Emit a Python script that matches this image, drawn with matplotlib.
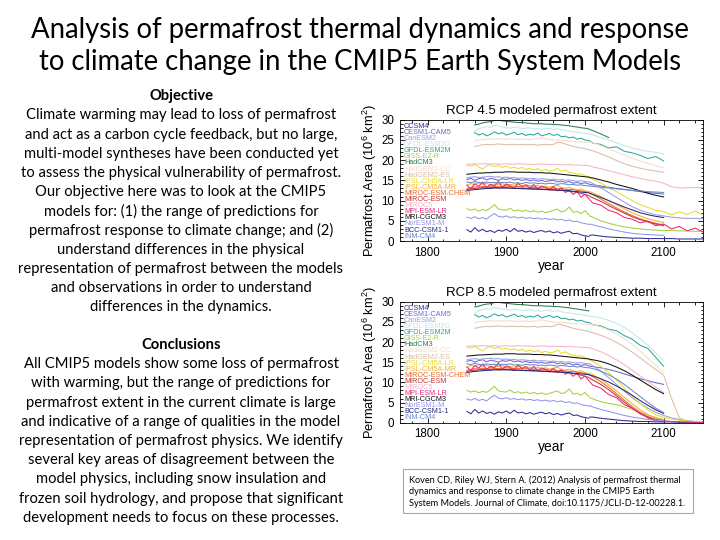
import numpy as np
import matplotlib
matplotlib.use('Agg')
import matplotlib.pyplot as plt
from matplotlib.patches import Rectangle
from matplotlib.ticker import MultipleLocator

nan = np.nan

# ---------- slide text ----------
TITLE = ['Analysis of permafrost thermal dynamics and response',
         'to climate change in the CMIP5 Earth System Models']
OBJECTIVE = ['Climate warming may lead to loss of permafrost',
             'and act as a carbon cycle feedback, but no large,',
             'multi-model syntheses have been conducted yet',
             'to assess the physical vulnerability of permafrost.',
             'Our objective here was to look at the CMIP5',
             'models for: (1) the range of predictions for',
             'permafrost response to climate change; and (2)',
             'understand differences in the physical',
             'representation of permafrost between the models',
             'and observations in order to understand',
             'differences in the dynamics.']
CONCLUSIONS = ['All CMIP5 models show some loss of permafrost',
               'with warming, but the range of predictions for',
               'permafrost extent in the current climate is large',
               'and indicative of a range of qualities in the model',
               'representation of permafrost physics. We identify',
               'several key areas of disagreement between the',
               'model physics, including snow insulation and',
               'frozen soil hydrology, and propose that significant',
               'development needs to focus on these processes.']
CITATION = ['Koven CD, Riley WJ, Stern A. (2012) Analysis of permafrost thermal',
            'dynamics and response to climate change in the CMIP5 Earth',
            'System Models. Journal of Climate, doi:10.1175/JCLI-D-12-00228.1.']

# ---------- permafrost area (10^6 km2) ----------
HIST_YEARS = list(range(1850, 2006, 5))
FUT_YEARS = [2006] + list(range(2010, 2151, 10))

hist_ccsm4 = [2.8, 2.2, 3.3, 2.4, 2.9, 2.3, 2.6, 2.1, 2.7, 2.4, 2.9, 2.3, 3.1, 2.4, 2.6, 2.2,
              2.5, 2.1, 2.4, 2.6, 2.2, 2.5, 2.0, 2.3, 1.9, 2.2, 2.4, 1.8, 1.9, 1.5, 1.3, 1.1]
rcp45_ccsm4 = [1.4, 1.5, 1.2, 1.0, 0.9, 0.8, 0.7, 0.7, 0.6, 0.6, 0.6, 0.6, 0.5, 0.5, 0.5, 0.5]
rcp85_ccsm4 = [1.4, 1.4, 1.1, 0.9, 0.7, 0.5, 0.4, 0.3, 0.3, 0.2, 0.2, 0.2, 0.1, 0.1, 0.1, 0.1]

hist_cesm = [15.2, 15.5, 15.0, 15.4, 15.6, 15.1, 15.5, 15.3, 15.0, 15.4, 15.2, 15.5, 15.1, 15.3, 15.0, 15.2,
             14.9, 15.1, 14.8, 15.0, 14.7, 14.9, 15.0, 14.6, 14.8, 14.5, 14.7, 14.3, 14.5, 14.2, 14.4, 14.1]
rcp45_cesm = [14.0, 13.9, 13.6, 13.3, 13.0, 12.8, 12.5, 12.2, 12.0, 11.8, 11.6]
rcp85_cesm = [14.0, 13.9, 13.6, 13.2, 12.7, 12.1, 11.5, 10.9, 10.4, 9.9, 9.5]

hist_canesm = [15.6, 15.8, 15.9, 15.7, 15.8, 15.9, 16.0, 15.8, 15.9, 15.7, 15.8, 15.6, 15.7, 15.5, 15.6, 15.5,
               15.4, 15.5, 15.3, 15.4, 15.3, 15.2, 15.3, 15.1, 15.2, 15.0, 15.1, 14.9, 14.8, 14.9, 14.7, 14.6]
rcp45_canesm = [14.6, 14.2, 13.2, 12.0, 10.8, 9.6, 8.5, 7.6, 7.0, 6.5, 6.2, 5.9, 5.7, 5.6, 5.6, 5.5]
rcp85_canesm = [14.6, 14.1, 12.8, 11.2, 9.5, 7.8, 6.2, 4.8, 3.6, 2.6, 1.8, 1.2, 0.8, 0.5, 0.3, 0.2]

hist_gfdl2g = [nan, nan, 27.2, 27.8, 28.0, 28.3, 28.1, 28.6, 28.4, 28.2, 28.0, 27.9, 28.2, 28.0, 27.8, 27.9,
               28.0, 27.7, 27.8, 27.6, 27.9, 27.8, 27.6, 27.8, 27.5, 27.3, 27.2, 27.0, 26.9, 26.8, 26.6, 26.5]
rcp45_gfdl2g = [26.4, 26.2, 25.6, 25.0, 24.3, 23.6, 23.0, 22.5, 22.2, 21.9, 21.6]
rcp85_gfdl2g = [26.4, 26.3, 26.0, 25.4, 24.6, 23.6, 22.3, 20.8, 19.2, 17.3, 15.4]

hist_gfdl2m = [nan, nan, 26.8, 26.2, 26.6, 26.0, 26.4, 27.0, 26.5, 26.8, 26.2, 26.5, 26.9, 26.3, 26.6, 26.1,
               26.4, 26.2, 26.7, 26.0, 26.3, 26.6, 26.1, 26.4, 25.8, 25.9, 25.5, 25.7, 25.2, 25.4, 25.0, 24.8]
rcp45_gfdl2m = [24.8, 24.2, 23.9, 23.0, 23.3, 22.2, 21.8, 21.2, 20.4, 20.9, 19.8]
rcp85_gfdl2m = [24.8, 24.3, 24.0, 23.2, 22.8, 21.6, 20.7, 19.2, 18.4, 16.2, 14.0]

hist_giss = [8.0, 7.6, 7.9, 7.4, 7.8, 7.5, 8.2, 9.0, 7.9, 7.7, 7.6, 8.1, 7.4, 7.7, 7.3, 7.6,
             7.2, 7.5, 7.1, 7.4, 7.0, 7.3, 7.6, 7.9, 7.2, 7.5, 8.4, 7.1, 7.3, 6.8, 7.5, 6.5]
rcp45_giss = [6.2, 5.9, 5.0, 4.4, 3.9, 3.5, 3.2, 3.0, 2.8, 2.7, 2.6, 2.6, 2.5, 2.5, 2.4, 2.4]
rcp85_giss = [6.2, 5.9, 5.2, 4.8, 4.5, 3.9, 3.3, 2.6, 1.9, 1.3, 0.8]

hist_hadcm3 = [nan, nan, 28.7, 28.9, 29.2, 29.4, 29.5, 29.8, 29.9, 29.7, 29.6, 29.5, 29.4, 29.3, 29.3, 29.2,
               29.1, 29.0, 29.0, 29.0, 28.9, 28.9, 28.8, 28.8, 28.7, 28.6, 28.5, 28.3, 28.2, 28.0, 27.9, 27.7]
rcp45_hadcm3 = [27.6, 27.3, 26.5, 25.6]
rcp85_hadcm3 = []

hist_hadcc = [nan, nan, 24.8, 25.0, 25.1, 25.2, 25.3, 25.2, 25.3, 25.2, 25.2, 25.3, 25.2, 25.1, 25.2, 25.2,
              25.1, 25.2, 25.4, 25.5, 25.3, 25.1, 25.0, 24.9, 24.8, 24.8, 24.7, 24.6, 24.5, 24.5, 24.4, 24.4]
rcp45_hadcc = [24.5, 24.3, 23.6, 22.8, 22.0, 21.2, 20.5, 19.8, 19.2, 18.6, 18.1]
rcp85_hadcc = [24.5, 24.3, 23.8, 23.0, 22.0, 20.8, 19.4, 17.8, 16.0, 14.2, 12.5]

hist_hades = [nan, nan, 23.4, 23.6, 23.8, 23.9, 23.8, 23.9, 24.0, 23.9, 23.8, 23.9, 23.9, 23.8, 23.9, 23.8,
              23.8, 23.9, 23.7, 23.8, 23.9, 23.8, 23.9, 24.4, 24.3, 24.0, 23.7, 23.4, 23.2, 23.0, 22.8, 22.6]
rcp45_hades = [22.5, 22.3, 21.6, 20.8, 19.9, 19.1, 18.5, 18.0, 17.6, 17.3, 17.0]
rcp85_hades = [22.5, 22.3, 21.7, 20.9, 19.9, 18.8, 17.5, 16.1, 14.6, 13.2, 11.8, 6.0, 1.2, 0.4, 0.3, 0.2]

hist_ipsllr = [18.8, 18.5, 18.9, 18.3, 17.8, 18.6, 18.9, 18.4, 18.7, 18.2, 18.5, 18.0, 18.3, 17.9, 18.2, 17.7,
               18.0, 17.6, 17.9, 17.4, 17.7, 17.3, 17.5, 18.0, 17.2, 17.6, 17.0, 16.8, 16.5, 16.6, 16.1, 15.9]
rcp45_ipsllr = [15.6, 15.3, 14.4, 13.2, 12.2, 11.1, 10.0, 9.0, 8.3, 7.6, 7.3, 6.5, 7.2, 6.6, 7.4, 6.4]
rcp85_ipsllr = [15.6, 15.2, 14.0, 12.4, 10.6, 8.6, 6.6, 4.8, 3.2, 2.0, 1.3, 0.9, 0.6, 0.4, 0.3, 0.2]

hist_ipslmr = [13.8, 14.2, 13.9, 14.4, 14.0, 14.3, 13.8, 14.1, 13.9, 14.2, 13.7, 14.0, 13.8, 14.1, 13.6, 13.9,
               13.7, 13.5, 13.8, 13.4, 13.6, 13.3, 13.5, 13.8, 13.2, 13.0, 13.3, 12.8, 12.6, 12.9, 12.4, 12.2]
rcp45_ipslmr = [12.2, 11.9, 11.0, 10.0, 9.0, 8.0, 7.0, 6.2, 5.5, 5.0, 4.6]
rcp85_ipslmr = [12.2, 11.9, 10.8, 9.4, 7.9, 6.3, 4.7, 3.2, 2.0, 1.1, 0.6]

hist_mirocchem = [13.0, 13.2, 13.4, 13.3, 13.5, 13.4, 13.6, 13.5, 13.4, 13.5, 13.6, 13.5, 13.4, 13.5, 13.3, 13.4,
                  13.3, 13.2, 13.3, 13.1, 13.2, 13.0, 13.1, 12.9, 13.0, 12.8, 12.7, 12.8, 12.5, 12.4, 12.2, 12.0]
rcp45_mirocchem = [11.8, 11.5, 10.4, 9.3, 8.2, 7.2, 6.3, 5.5, 4.9, 4.4, 4.0]
rcp85_mirocchem = [11.8, 11.4, 10.2, 8.8, 7.2, 5.6, 4.0, 2.6, 1.4, 0.6, 0.3]

hist_mirocesm = [12.7, 12.9, 13.0, 13.1, 13.2, 13.1, 13.2, 13.3, 13.1, 13.2, 13.2, 13.1, 13.0, 13.1, 12.9, 13.0,
                 12.9, 12.8, 12.9, 12.7, 12.8, 12.6, 12.7, 12.5, 12.6, 12.4, 12.3, 12.2, 12.0, 11.8, 11.5, 11.2]
rcp45_mirocesm = [11.0, 10.7, 9.8, 8.8, 7.8, 6.9, 6.0, 5.3, 4.7, 4.2, 3.8]
rcp85_mirocesm = [11.0, 10.6, 9.5, 8.2, 6.7, 5.1, 3.6, 2.3, 1.2, 0.5, 0.2]

hist_miroc5 = [19.0, 19.0, 19.1, 19.0, 19.1, 19.1, 19.0, 19.1, 19.0, 19.0, 19.1, 19.0, 19.0, 19.1, 19.0, 19.0,
               19.0, 18.9, 19.0, 19.0, 19.0, 18.9, 19.0, 18.9, 18.9, 18.8, 18.9, 18.8, 18.8, 18.7, 18.7, 18.6]
rcp45_miroc5 = [18.6, 18.3, 17.9, 17.4, 16.9, 16.4, 15.9, 15.5, 15.1, 14.8, 14.3, 13.4, 13.1, 13.2, 13.2, 13.3]
rcp85_miroc5 = [18.6, 18.3, 17.6, 16.7, 15.6, 14.4, 13.0, 11.6, 10.2, 8.8, 7.5]

hist_mpi = [13.8, 12.9, 14.2, 13.5, 14.6, 13.2, 14.0, 13.6, 14.8, 13.3, 14.1, 13.7, 13.0, 14.3, 13.4, 13.9,
            13.1, 14.0, 12.8, 13.6, 13.2, 12.7, 13.5, 12.4, 13.1, 12.0, 12.6, 11.5, 12.3, 10.8, 11.6, 10.4]
rcp45_mpi = [10.2, 9.4, 8.9, 7.6, 7.0, 5.8, 5.4, 4.5, 4.9, 3.8, 4.2, 3.0, 3.6, 2.5, 3.2, 2.2]
rcp85_mpi = [10.2, 9.3, 8.6, 7.0, 6.2, 4.5, 3.6, 2.2, 1.5, 0.8, 0.5, 0.3, 0.2, 0.2, 0.1, 0.1]

hist_mri = [16.5, 16.6, 16.7, 16.8, 16.8, 16.9, 16.9, 17.0, 17.0, 17.0, 17.1, 17.1, 17.1, 17.0, 17.0, 17.0,
            17.0, 16.9, 16.9, 16.9, 16.8, 16.8, 16.7, 16.6, 16.5, 16.4, 16.3, 16.2, 16.1, 16.0, 15.9, 15.8]
rcp45_mri = [15.7, 15.6, 15.1, 14.6, 14.0, 13.5, 13.0, 12.4, 11.8, 11.3, 10.9]
rcp85_mri = [15.7, 15.6, 15.2, 14.6, 13.8, 12.9, 11.8, 10.6, 9.4, 8.2, 7.2]

hist_noresm = [5.9, 5.6, 6.0, 5.5, 5.8, 5.4, 6.2, 6.8, 6.1, 5.9, 6.2, 5.8, 6.0, 5.7, 5.9, 5.6,
               5.8, 5.5, 5.7, 5.4, 5.6, 5.3, 5.5, 5.2, 5.4, 5.0, 5.2, 4.8, 4.9, 4.5, 4.3, 4.1]
rcp45_noresm = [4.2, 4.0, 3.5, 3.0, 2.6, 2.2, 1.9, 1.7, 1.6, 1.5, 1.4]
rcp85_noresm = [4.2, 3.9, 3.3, 2.8, 2.3, 1.8, 1.4, 1.1, 0.8, 0.6, 0.5]

hist_bcc = [12.4, 12.6, 12.7, 12.8, 12.9, 13.0, 13.0, 13.1, 13.1, 13.1, 13.1, 13.1, 13.0, 13.0, 13.0, 12.9,
            12.9, 12.9, 12.8, 12.8, 12.7, 12.7, 12.6, 12.6, 12.5, 12.5, 12.4, 12.3, 12.2, 12.1, 12.0, 11.9]
rcp45_bcc = [11.8, 11.5, 10.8, 10.0, 9.2, 8.4, 7.7, 7.0, 6.5, 6.1, 5.8]
rcp85_bcc = [11.8, 11.6, 10.9, 10.1, 9.1, 8.0, 6.8, 5.5, 4.3, 3.2, 2.3]

hist_inm = [14.6, 14.4, 14.7, 14.5, 14.3, 14.6, 14.4, 14.5, 14.3, 14.5, 14.4, 14.6, 14.3, 14.4, 14.2, 14.5,
            14.3, 14.4, 14.2, 14.3, 14.1, 14.3, 14.2, 14.0, 14.2, 14.1, 13.9, 14.0, 13.8, 13.9, 13.7, 13.6]
rcp45_inm = [13.6, 13.5, 13.3, 13.1, 12.9, 12.7, 12.5, 12.4, 12.2, 12.1, 12.0]
rcp85_inm = [13.6, 13.4, 12.8, 11.9, 10.8, 9.5, 8.0, 6.5, 5.0, 3.6, 2.5]

MODELS = ['CCSM4', 'CESM1-CAM5', 'CanESM2', 'GFDL-ESM2G', 'GFDL-ESM2M', 'GISS-E2-R', 'HadCM3',
          'HadGEM2-CC', 'HadGEM2-ES', 'IPSL-CM5A-LR', 'IPSL-CM5A-MR', 'MIROC-ESM-CHEM',
          'MIROC-ESM', 'MIROC5', 'MPI-ESM-LR', 'MRI-CGCM3', 'NorESM1-M', 'BCC-CSM1-1', 'INM-CM4']
COLORS = ['#2b2b9c', '#6a6ad2', '#9c9ce0', '#c4e6ee', '#2aa898', '#a4d040', '#2d7a50',
          '#f6dccb', '#d9bea8', '#e6e02a', '#f2b030', '#ec6a28',
          '#c83232', '#f4b4c8', '#e8287c', '#111111', '#9494ec', '#24287e', '#6a88c8']

SERIES = {
    'CCSM4': (hist_ccsm4, rcp45_ccsm4, rcp85_ccsm4),
    'CESM1-CAM5': (hist_cesm, rcp45_cesm, rcp85_cesm),
    'CanESM2': (hist_canesm, rcp45_canesm, rcp85_canesm),
    'GFDL-ESM2G': (hist_gfdl2g, rcp45_gfdl2g, rcp85_gfdl2g),
    'GFDL-ESM2M': (hist_gfdl2m, rcp45_gfdl2m, rcp85_gfdl2m),
    'GISS-E2-R': (hist_giss, rcp45_giss, rcp85_giss),
    'HadCM3': (hist_hadcm3, rcp45_hadcm3, rcp85_hadcm3),
    'HadGEM2-CC': (hist_hadcc, rcp45_hadcc, rcp85_hadcc),
    'HadGEM2-ES': (hist_hades, rcp45_hades, rcp85_hades),
    'IPSL-CM5A-LR': (hist_ipsllr, rcp45_ipsllr, rcp85_ipsllr),
    'IPSL-CM5A-MR': (hist_ipslmr, rcp45_ipslmr, rcp85_ipslmr),
    'MIROC-ESM-CHEM': (hist_mirocchem, rcp45_mirocchem, rcp85_mirocchem),
    'MIROC-ESM': (hist_mirocesm, rcp45_mirocesm, rcp85_mirocesm),
    'MIROC5': (hist_miroc5, rcp45_miroc5, rcp85_miroc5),
    'MPI-ESM-LR': (hist_mpi, rcp45_mpi, rcp85_mpi),
    'MRI-CGCM3': (hist_mri, rcp45_mri, rcp85_mri),
    'NorESM1-M': (hist_noresm, rcp45_noresm, rcp85_noresm),
    'BCC-CSM1-1': (hist_bcc, rcp45_bcc, rcp85_bcc),
    'INM-CM4': (hist_inm, rcp45_inm, rcp85_inm),
}

SLIDE_FONT = ['Lato', 'DejaVu Sans']
PLOT_FONT = ['Liberation Sans', 'DejaVu Sans']
plt.rcParams['mathtext.default'] = 'regular'

W, H = 720, 540


def fx(px):
    return px / W


def fy(py):
    return 1 - py / H


def draw_panel(ax, title, idx):
    for name, col in zip(MODELS, COLORS):
        hist, fut = SERIES[name][0], SERIES[name][idx]
        ax.plot(HIST_YEARS, hist, color=col, lw=0.75)
        if fut:
            ax.plot(FUT_YEARS[:len(fut)], fut, color=col, lw=0.75)
    # NCL style text legend
    for i, (name, col) in enumerate(zip(MODELS, COLORS)):
        ax.text(0.013, 0.945 - i * 0.0503, name, color=col, fontsize=5.2,
                family=PLOT_FONT, transform=ax.transAxes, va='center')
    ax.set_xlim(1765, 2150)
    ax.set_ylim(0, 30)
    ax.set_xticks([1800, 1900, 2000, 2100])
    ax.set_yticks(range(0, 31, 5))
    ax.xaxis.set_minor_locator(MultipleLocator(20))
    ax.yaxis.set_minor_locator(MultipleLocator(1))
    ax.tick_params(which='both', direction='in', top=True, right=True, width=0.6)
    ax.tick_params(which='major', length=3.5, labelsize=8.3, pad=4)
    ax.tick_params(which='minor', length=1.8)
    for lab in ax.get_xticklabels() + ax.get_yticklabels():
        lab.set_family(PLOT_FONT)
    for s in ax.spines.values():
        s.set_linewidth(0.6)
    ax.set_title(title, fontsize=9.5, family=PLOT_FONT, pad=4)
    ax.set_xlabel('year', fontsize=10, family=PLOT_FONT, labelpad=0)
    ax.set_ylabel('Permafrost Area (10$^6$ km$^2$)', fontsize=9.3, family=PLOT_FONT, labelpad=2)


fig = plt.figure(figsize=(7.2, 5.4), dpi=100)

# title
for i, line in enumerate(TITLE):
    fig.text(0.5, fy(30 + 32 * i), line, ha='center', va='center', fontsize=19.8, family=SLIDE_FONT)

# left column
fig.text(fx(181), fy(96), 'Objective', ha='center', va='center', fontsize=10.6, weight='bold', family=SLIDE_FONT)
for i, line in enumerate(OBJECTIVE):
    fig.text(fx(181), fy(115.3 + 19.2 * i), line, ha='center', va='center', fontsize=10.6, family=SLIDE_FONT)
fig.text(fx(181), fy(345), 'Conclusions', ha='center', va='center', fontsize=10.6, weight='bold', family=SLIDE_FONT)
for i, line in enumerate(CONCLUSIONS):
    fig.text(fx(181), fy(364.2 + 19.2 * i), line, ha='center', va='center', fontsize=10.6, family=SLIDE_FONT)

# panels
ax1 = fig.add_axes([fx(400), fy(241), 303 / W, 121.3 / H])
draw_panel(ax1, 'RCP 4.5 modeled permafrost extent', 1)
ax2 = fig.add_axes([fx(400), fy(422.7), 303 / W, 121 / H])
draw_panel(ax2, 'RCP 8.5 modeled permafrost extent', 2)

# citation box
fig.patches.append(Rectangle((fx(403), fy(513)), 290 / W, 44 / H, transform=fig.transFigure,
                             fill=False, edgecolor='#a8a8a8', lw=0.8))
for i, line in enumerate(CITATION):
    fig.text(fx(409), fy(480 + 12 * i), line, ha='left', va='center', fontsize=6.6, family=SLIDE_FONT)

fig.savefig('out.png', dpi=100)
